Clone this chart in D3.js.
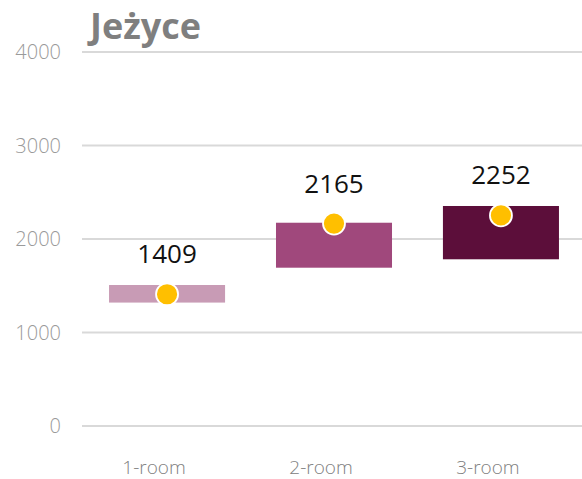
<!DOCTYPE html>
<html>
<head>
<meta charset="utf-8">
<script src="https://cdn.jsdelivr.net/npm/d3@7"></script>
<style>
  html, body { margin: 0; padding: 0; background: #fff; }
  svg { display: block; font-family: "Open Sans", sans-serif; }
</style>
</head>
<body>
<svg id="chart" width="582" height="479"></svg>
<script>
// Rent ranges per flat size in Jeżyce, with the typical value marked
const categories = ["1-room", "2-room", "3-room"];
const rangeLow   = [1320, 1693, 1783];
const rangeHigh  = [1508, 2174, 2353];
const typical    = [1409, 2165, 2252];
const barColors  = ["#c89bb5", "#a0487c", "#5c0e3a"];
const yTicks     = [0, 1000, 2000, 3000, 4000];
const title      = "Jeżyce";

const svg = d3.select("#chart");

const x = d3.scaleBand()
  .domain(categories)
  .range([84, 584])
  .paddingInner(0.305)
  .paddingOuter(0.15);

const y = d3.scaleLinear()
  .domain([0, 4000])
  .range([426, 52]);

// horizontal gridlines
svg.append("g")
  .selectAll("line")
  .data(yTicks)
  .join("line")
  .attr("x1", 82)
  .attr("x2", 582)
  .attr("y1", d => y(d))
  .attr("y2", d => y(d))
  .attr("stroke", "#d9d9d9")
  .attr("stroke-width", 2);

// value axis labels
svg.append("g")
  .selectAll("text")
  .data(yTicks)
  .join("text")
  .attr("x", 61)
  .attr("y", d => y(d))
  .attr("dy", "0.35em")
  .attr("text-anchor", "end")
  .attr("font-size", 20)
  .attr("font-weight", 300)
  .attr("fill", "#9a9a9a")
  .text(d => d);

// range bars
svg.append("g")
  .selectAll("rect")
  .data(categories)
  .join("rect")
  .attr("x", d => x(d))
  .attr("width", x.bandwidth())
  .attr("y", (d, i) => y(rangeHigh[i]))
  .attr("height", (d, i) => y(rangeLow[i]) - y(rangeHigh[i]))
  .attr("fill", (d, i) => barColors[i]);

// typical value markers
svg.append("g")
  .selectAll("circle")
  .data(categories)
  .join("circle")
  .attr("cx", d => x(d) + x.bandwidth() / 2)
  .attr("cy", (d, i) => y(typical[i]))
  .attr("r", 11)
  .attr("fill", "#ffbf00")
  .attr("stroke", "#fff")
  .attr("stroke-width", 1.8);

// value labels
svg.append("g")
  .selectAll("text")
  .data(categories)
  .join("text")
  .attr("x", d => x(d) + x.bandwidth() / 2)
  .attr("y", (d, i) => y(typical[i]) - 31)
  .attr("text-anchor", "middle")
  .attr("font-size", 26)
  .attr("fill", "#111")
  .text((d, i) => typical[i]);

// category labels
svg.append("g")
  .selectAll("text")
  .data(categories)
  .join("text")
  .attr("x", d => x(d) + x.bandwidth() / 2 - 13)
  .attr("y", 474)
  .attr("text-anchor", "middle")
  .attr("font-size", 19)
  .attr("font-weight", 300)
  .attr("fill", "#808080")
  .text(d => d);

// title
svg.append("text")
  .attr("x", 90)
  .attr("y", 39)
  .attr("font-size", 36)
  .attr("font-weight", 700)
  .attr("fill", "#7f7f7f")
  .text(title);
</script>
</body>
</html>
